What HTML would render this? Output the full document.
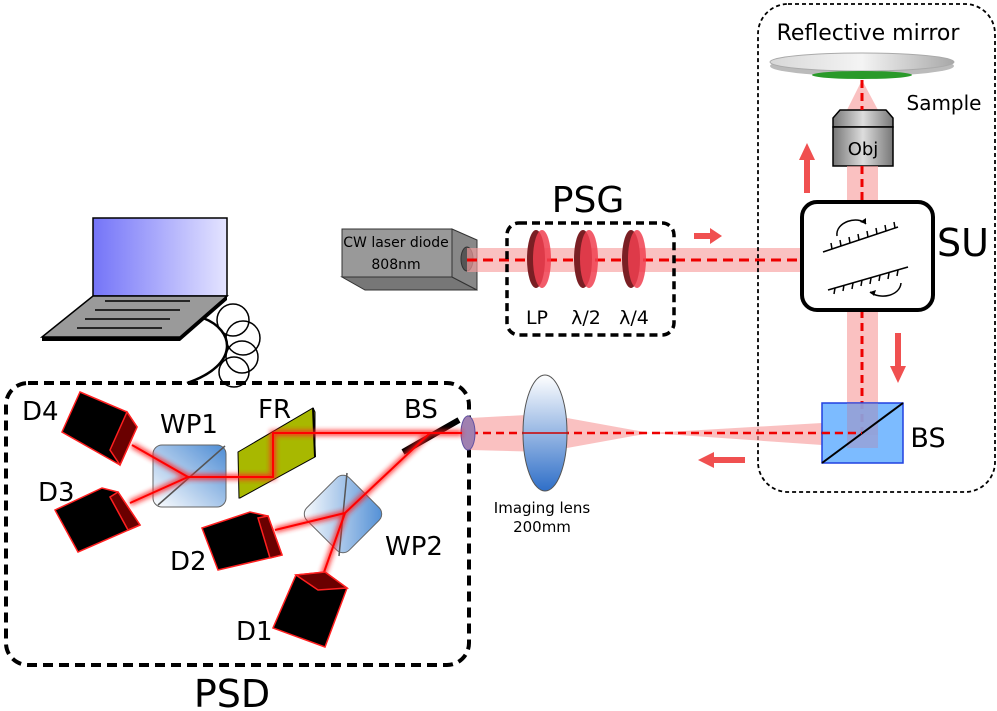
<!DOCTYPE html>
<html><head><meta charset="utf-8"><style>
html,body{margin:0;padding:0;background:#fff;}
svg{display:block;font-family:"DejaVu Sans","Liberation Sans",sans-serif;}
</style></head><body>
<svg width="997" height="711" viewBox="0 0 997 711" xmlns="http://www.w3.org/2000/svg">
<defs>
<linearGradient id="scr" x1="0" x2="1"><stop offset="0" stop-color="#7474f8"/><stop offset="1" stop-color="#e4e4ff"/></linearGradient>
<linearGradient id="cube" x1="0" y1="1" x2="1" y2="0"><stop offset="0" stop-color="#ffffff"/><stop offset="1" stop-color="#3a80d0"/></linearGradient>
<linearGradient id="lens" x1="0" y1="0" x2="0" y2="1"><stop offset="0" stop-color="#ffffff"/><stop offset="1" stop-color="#2f6fc8"/></linearGradient>
<linearGradient id="mir" x1="0" y1="0" x2="1" y2="0"><stop offset="0" stop-color="#d8d8d8"/><stop offset="0.5" stop-color="#f4f4f4"/><stop offset="1" stop-color="#a8a8a8"/></linearGradient>
<linearGradient id="obj" x1="0" x2="1"><stop offset="0" stop-color="#777"/><stop offset="0.5" stop-color="#ddd"/><stop offset="1" stop-color="#777"/></linearGradient>
<filter id="glow" x="-20%" y="-20%" width="140%" height="140%"><feGaussianBlur stdDeviation="2.5"/></filter>
</defs>

<!-- laptop -->
<rect x="93" y="218" width="134" height="78" fill="url(#scr)" stroke="#000" stroke-width="1.5"/>
<polygon points="93,296 227,296 180,337 42,337" fill="#9a9a9a" stroke="#000" stroke-width="1.5"/>
<polygon points="42,337 180,337 180,341 42,341" fill="#000"/>
<polygon points="180,337 227,296 227,300 180,341" fill="#000"/>
<g stroke="#000" stroke-width="1.5"><line x1="105" y1="301" x2="190" y2="301"/><line x1="95" y1="310" x2="180" y2="310"/><line x1="85" y1="319" x2="170" y2="319"/><line x1="77" y1="328" x2="162" y2="328"/></g>
<path d="M203,318 C235,330 240,365 187,383" fill="none" stroke="#000" stroke-width="2.5"/>
<g fill="none" stroke="#000" stroke-width="1.5"><circle cx="233" cy="320" r="16"/><circle cx="243" cy="338" r="17"/><circle cx="242" cy="357" r="16"/><circle cx="234" cy="372" r="15"/></g>

<!-- PSD box -->
<rect x="6" y="383" width="463" height="282" rx="22" fill="none" stroke="#000" stroke-width="4" stroke-dasharray="10,6"/>
<text x="232" y="707" font-size="38" text-anchor="middle">PSD</text>

<!-- laser -->
<polygon points="342,277 452,277 477,290 365,290" fill="#777" stroke="#333"/>
<polygon points="452,229 477,240 477,290 452,277" fill="#888" stroke="#333"/>
<rect x="342" y="229" width="110" height="48" fill="#999" stroke="#333"/>
<text x="396" y="247" font-size="14" text-anchor="middle">CW laser diode</text>
<text x="396" y="269" font-size="14" text-anchor="middle">808nm</text>
<ellipse cx="467" cy="259" rx="6" ry="12" fill="#555" stroke="#333"/>

<!-- horizontal beam -->
<rect x="467" y="248" width="335" height="24" fill="#f7a0a0" opacity="0.65"/>
<line x1="467" y1="260" x2="802" y2="260" stroke="#e00" stroke-width="3" stroke-dasharray="10,6"/>

<!-- PSG -->
<g>
<ellipse cx="536" cy="259" rx="9" ry="29" fill="#7a1f24"/><ellipse cx="542" cy="259" rx="9" ry="29" fill="#f04050" opacity="0.85"/>
<ellipse cx="583" cy="259" rx="9" ry="29" fill="#7a1f24"/><ellipse cx="589" cy="259" rx="9" ry="29" fill="#f04050" opacity="0.85"/>
<ellipse cx="631" cy="259" rx="9" ry="29" fill="#7a1f24"/><ellipse cx="637" cy="259" rx="9" ry="29" fill="#f04050" opacity="0.85"/>
</g>
<rect x="507" y="223" width="167" height="112" rx="12" fill="none" stroke="#000" stroke-width="3.5" stroke-dasharray="8,5"/>
<text x="588" y="212" font-size="36" text-anchor="middle">PSG</text>
<text x="537" y="324" font-size="19" text-anchor="middle">LP</text>
<text x="586" y="324" font-size="19" text-anchor="middle">λ/2</text>
<text x="634" y="324" font-size="19" text-anchor="middle">λ/4</text>
<polygon points="694,233 710,233 710,228 722,236 710,244 710,239 694,239" fill="#f05050"/>

<!-- SU dashed region -->
<rect x="758" y="4" width="237" height="488" rx="30" fill="none" stroke="#000" stroke-width="1.8" stroke-dasharray="4,3"/>
<text x="868" y="40" font-size="22" text-anchor="middle">Reflective mirror</text>
<ellipse cx="862" cy="66" rx="92" ry="10" fill="#bbb"/>
<ellipse cx="862" cy="62" rx="92" ry="9" fill="url(#mir)" stroke="#aaa"/>
<ellipse cx="862" cy="75" rx="50" ry="4" fill="#2a9a2a"/>
<text x="944" y="110" font-size="20" text-anchor="middle">Sample</text>
<polygon points="862,80 847,110 878,110" fill="#f7a0a0" opacity="0.65"/>
<polygon points="840,110 886,110 893,118 893,127 833,127 833,118" fill="url(#obj)" stroke="#000" stroke-width="1.5"/>
<rect x="833" y="127" width="60" height="39" fill="url(#obj)" stroke="#000" stroke-width="1.5"/>
<text x="863" y="155" font-size="18" text-anchor="middle">Obj</text>
<rect x="847" y="166" width="31" height="36" fill="#f7a0a0" opacity="0.65"/>
<rect x="847" y="310" width="31" height="125" fill="#f7a0a0" opacity="0.65"/>
<line x1="862" y1="80" x2="862" y2="110" stroke="#e00" stroke-width="3" stroke-dasharray="8,5"/>
<line x1="862" y1="166" x2="862" y2="202" stroke="#e00" stroke-width="3" stroke-dasharray="8,5"/>
<line x1="862" y1="310" x2="862" y2="433" stroke="#e00" stroke-width="3" stroke-dasharray="8,5"/>
<polygon points="804,193 810,193 810,160 815,160 807,143 799,160 804,160" fill="#f05050"/>
<polygon points="895,333 901,333 901,366 906,366 898,383 890,366 895,366" fill="#f05050"/>

<rect x="802" y="202" width="131" height="108" rx="15" fill="#fff" stroke="#000" stroke-width="4"/>
<text x="963" y="256" font-size="38" text-anchor="middle">SU</text>
<g stroke="#000" stroke-width="1.5" fill="none">
<line x1="823" y1="252" x2="898" y2="227"/>
<line x1="832" y1="249" x2="831" y2="243"/><line x1="841" y1="246" x2="840" y2="240"/><line x1="850" y1="243" x2="849" y2="237"/><line x1="859" y1="240" x2="858" y2="234"/><line x1="868" y1="237" x2="867" y2="231"/><line x1="877" y1="234" x2="876" y2="228"/><line x1="886" y1="231" x2="885" y2="225"/><line x1="895" y1="228" x2="894" y2="222"/>
<path d="M837,236 C835,222 858,215 866,224"/>
<line x1="828" y1="290" x2="908" y2="267"/>
<line x1="835" y1="288" x2="834" y2="294"/><line x1="844" y1="285" x2="843" y2="291"/><line x1="853" y1="283" x2="852" y2="289"/><line x1="862" y1="280" x2="861" y2="286"/><line x1="871" y1="278" x2="870" y2="284"/><line x1="880" y1="275" x2="879" y2="281"/><line x1="889" y1="273" x2="888" y2="279"/><line x1="898" y1="270" x2="897" y2="276"/>
<path d="M870,292 C880,300 900,296 901,283"/>
</g>
<polygon points="866,224 860,222 866,218" fill="#000"/>
<polygon points="870,292 876,290 874,296" fill="#000"/>

<!-- return beam cone -->
<polygon points="822,423 650,433 822,445" fill="#f7a0a0" opacity="0.65"/>
<polygon points="650,433 545,414 470,418 470,450 545,452" fill="#f7a0a0" opacity="0.65"/>
<line x1="470" y1="433" x2="862" y2="433" stroke="#e00" stroke-width="2.5" stroke-dasharray="8,5"/>
<ellipse cx="545" cy="433" rx="22" ry="58" fill="url(#lens)" stroke="#555"/>
<line x1="523" y1="433" x2="567" y2="433" stroke="#c00" stroke-width="1.5"/>
<text x="542" y="513" font-size="15" text-anchor="middle">Imaging lens</text>
<text x="542" y="532" font-size="15" text-anchor="middle">200mm</text>
<polygon points="745,457 714,457 714,452 698,460 714,468 714,463 745,463" fill="#f05050"/>

<!-- BS right -->
<rect x="822" y="403" width="81" height="60" fill="#6eb4ff" fill-opacity="0.9" stroke="#2040e0" stroke-width="1.5"/>
<rect x="847" y="403" width="31" height="45" fill="#c080a0" opacity="0.35"/>
<line x1="822" y1="463" x2="903" y2="403" stroke="#000" stroke-width="2"/>
<line x1="822" y1="433" x2="862" y2="433" stroke="#e00" stroke-width="2.5" stroke-dasharray="8,5"/>
<text x="928" y="447" font-size="27" text-anchor="middle">BS</text>

<!-- PSD internals -->
<ellipse cx="468" cy="433" rx="7" ry="17" fill="#a080b0" stroke="#6050a0"/>
<polygon points="238,452 313,408 315,412 315,457 240,498 239,498" fill="#a8b800" stroke="#000"/>
<line x1="313" y1="408" x2="315" y2="457" stroke="#000" stroke-width="2"/>
<rect x="153" y="445" width="73" height="62" rx="9" fill="url(#cube)" stroke="#555" opacity="0.9"/>
<line x1="158" y1="505" x2="225" y2="446" stroke="#555" stroke-width="1.5"/>
<rect x="313" y="484" width="60" height="60" rx="9" transform="rotate(45 343 514)" fill="url(#cube)" stroke="#555" opacity="0.9"/>
<line x1="347" y1="473" x2="339" y2="556" stroke="#555" stroke-width="1.5"/>
<line x1="403" y1="452" x2="459" y2="420" stroke="#000" stroke-width="6"/>

<g stroke="#ff2020" stroke-width="6" fill="none" filter="url(#glow)" opacity="0.8">
<polyline points="462,433 273,433 273,477 188,477"/>
<line x1="188" y1="477" x2="132" y2="445"/><line x1="188" y1="477" x2="130" y2="503"/>
<line x1="430" y1="433" x2="345" y2="513"/><line x1="345" y1="513" x2="275" y2="530"/><line x1="345" y1="513" x2="323" y2="575"/>
</g>
<g stroke="#ff0000" stroke-width="2" fill="none">
<polyline points="462,433 273,433 273,477 188,477"/>
<line x1="188" y1="477" x2="132" y2="445"/><line x1="188" y1="477" x2="130" y2="503"/>
<line x1="430" y1="433" x2="345" y2="513"/><line x1="345" y1="513" x2="275" y2="530"/><line x1="345" y1="513" x2="323" y2="575"/>
</g>

<!-- detectors -->
<g stroke="#ff2020" stroke-width="1.5">
<polygon points="80,392 127,412 137,427 120,465 62,432" fill="#000"/>
<polygon points="127,412 137,427 120,465 110,450" fill="#6a0000"/>
<polygon points="55,510 102,488 118,492 140,525 78,552" fill="#000"/>
<polygon points="118,492 140,525 128,530 110,497" fill="#6a0000"/>
<polygon points="202,528 250,512 268,516 282,555 218,570" fill="#000"/>
<polygon points="268,516 282,555 270,558 258,518" fill="#6a0000"/>
<polygon points="296,575 325,572 347,588 325,647 273,628" fill="#000"/>
<polygon points="296,575 325,572 347,588 318,590" fill="#6a0000"/>
</g>
<g font-size="26">
<text x="22" y="420">D4</text><text x="38" y="501">D3</text><text x="170" y="570">D2</text><text x="236" y="640">D1</text>
<text x="160" y="433">WP1</text><text x="258" y="418">FR</text><text x="404" y="418">BS</text><text x="385" y="555">WP2</text>
</g>
</svg>
</body></html>
